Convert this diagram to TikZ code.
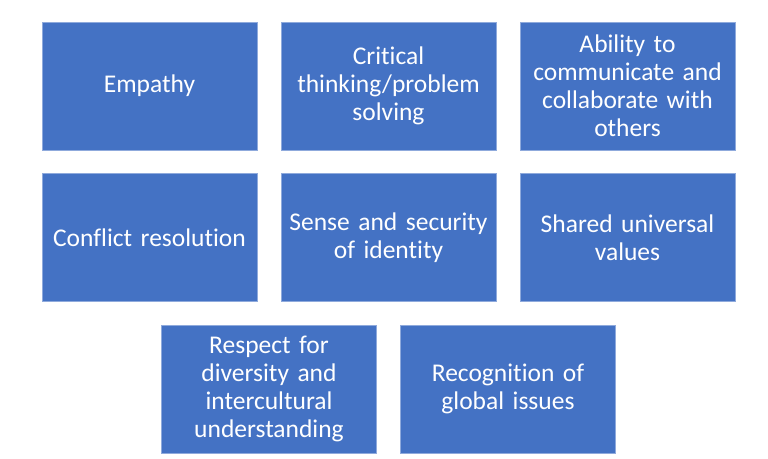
\documentclass[tikz,border=0pt]{standalone}
\usepackage{fontspec}
\setmainfont{Carlito}[Ligatures=NoCommon, WordSpace=0.8]
\definecolor{boxblue}{RGB}{68,114,196}
\definecolor{boxedge}{RGB}{143,170,220}
\tikzset{
  skill/.style={draw=boxedge, line width=0.6pt, fill=boxblue, text=white,
    minimum width=215pt, minimum height=128pt, inner sep=0pt,
    text width=210pt, align=center, font=\fontsize{25.5}{28}\selectfont}
}
\begin{document}
\begin{tikzpicture}[x=1pt, y=-1pt]
        \useasboundingbox (0,0) rectangle (768,458);
        
        % Baris 1
        \node[skill] (empathy) at (149.5,86) {Empathy};
        \node[skill] (critical) at (388.5,86) {Critical\\thinking/problem\\solving};
        \node[skill] (communicate) at (627.5,86) {Ability to\\communicate and\\collaborate with\\others};
        
        % Baris 2
        \node[skill] (conflict) at (149.5,237.5) {Conflict resolution};
        \node[skill] (identity) at (388.5,237.5) {Sense and security\\of identity};
        \node[skill] (values) at (627.5,237.5) {Shared universal\\values};
        
        % Baris 3
        \node[skill] (diversity) at (269,389) {Respect for\\diversity and\\intercultural\\understanding};
        \node[skill] (global) at (508,389) {Recognition of\\global issues};
    \end{tikzpicture}
\end{document}
